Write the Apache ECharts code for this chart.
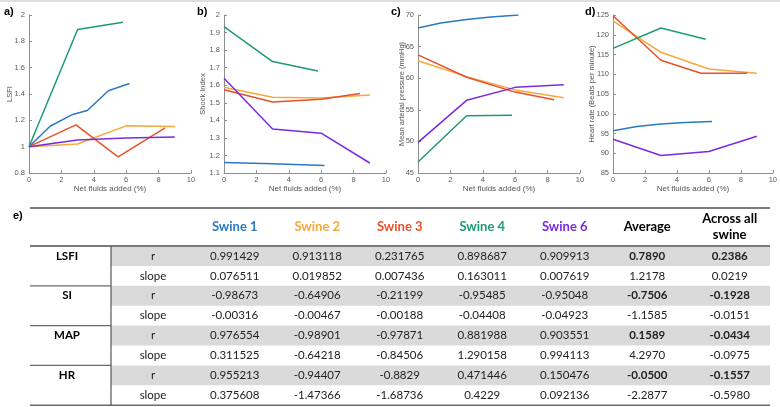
<!DOCTYPE html>
<html>
<head>
<meta charset="utf-8">
<script src="https://cdn.jsdelivr.net/npm/echarts@6/dist/echarts.min.js"></script>
<style>
  html, body { margin: 0; padding: 0; background: #fff; }
  #chart-container { width: 780px; height: 407px; }
</style>
</head>
<body>
<div id="chart-container"></div>
<script>
// swine names and line colours
var swineNames = ['Swine 1', 'Swine 2', 'Swine 3', 'Swine 4', 'Swine 6'];
var swineColors = ['#2b79c2', '#f5a83c', '#e6522c', '#1c9c6e', '#7d29e0'];

// a) LSFI  [net fluids %, value]
var lsfi1 = [[0, 1.0], [1.3, 1.155], [2.7, 1.245], [3.6, 1.275], [4.9, 1.425], [6.2, 1.48]];
var lsfi2 = [[0, 1.0], [3, 1.02], [6, 1.158], [9, 1.153]];
var lsfi3 = [[0, 1.0], [2.9, 1.165], [5.5, 0.922], [8.4, 1.143]];
var lsfi4 = [[0, 1.0], [3, 1.89], [5.8, 1.945]];
var lsfi6 = [[0, 1.0], [3, 1.05], [6, 1.065], [9, 1.073]];

// b) shock index
var si1 = [[0, 1.16], [3, 1.152], [6.2, 1.143]];
var si2 = [[0, 1.589], [3, 1.532], [6, 1.527], [9, 1.544]];
var si3 = [[0, 1.574], [3, 1.505], [6, 1.52], [8.4, 1.553]];
var si4 = [[0, 1.934], [3, 1.735], [5.8, 1.681]];
var si6 = [[0, 1.64], [3, 1.351], [6, 1.327], [9, 1.157]];

// c) mean arterial pressure
var map1 = [[0, 67.95], [1.4, 68.75], [3, 69.3], [4.5, 69.7], [6.2, 70.0]];
var map2 = [[0, 62.75], [3, 60.25], [6, 58.15], [9, 56.9]];
var map3 = [[0, 63.7], [3, 60.15], [6, 57.8], [8.4, 56.6]];
var map4 = [[0, 46.75], [3, 54.05], [5.8, 54.15]];
var map6 = [[0, 49.85], [3, 56.5], [6, 58.55], [9, 58.95]];

// d) heart rate
var hr1 = [[0, 95.7], [1.5, 96.75], [3, 97.4], [4.5, 97.8], [6.2, 98.05]];
var hr2 = [[0, 123.5], [3, 115.55], [6, 111.35], [9, 110.25]];
var hr3 = [[0, 124.8], [3, 113.55], [5.5, 110.25], [8.4, 110.25]];
var hr4 = [[0, 116.55], [3, 121.7], [5.8, 118.85]];
var hr6 = [[0, 93.55], [3, 89.45], [6, 90.45], [9, 94.3]];

// axis ranges per panel
var panelLabels = ['a)', 'b)', 'c)', 'd)'];
var yNames = ['LSFI', 'Shock Index', 'Mean arterial pressure (mmHg)', 'Heart rate (Beats per minute)'];
var yMins = [0.8, 1.1, 45, 85];
var yMaxs = [2, 2, 70, 125];
var yIntervals = [0.2, 0.1, 5, 5];
var xTicks = [0, 10, 2];

// e) table
var tableGroups = ['LSFI', 'SI', 'MAP', 'HR'];
var tableStats = ['r', 'slope'];
var extraCols = ['Average', 'Across all\nswine'];
var colSwine1 = ['0.991429', '0.076511', '-0.98673', '-0.00316', '0.976554', '0.311525', '0.955213', '0.375608'];
var colSwine2 = ['0.913118', '0.019852', '-0.64906', '-0.00467', '-0.98901', '-0.64218', '-0.94407', '-1.47366'];
var colSwine3 = ['0.231765', '0.007436', '-0.21199', '-0.00188', '-0.97871', '-0.84506', '-0.8829', '-1.68736'];
var colSwine4 = ['0.898687', '0.163011', '-0.95485', '-0.04408', '0.881988', '1.290158', '0.471446', '0.4229'];
var colSwine6 = ['0.909913', '0.007619', '-0.95048', '-0.04923', '0.903551', '0.994113', '0.150476', '0.092136'];
var colAverage = ['0.7890', '1.2178', '-0.7506', '-1.1585', '0.1589', '4.2970', '-0.0500', '-2.2877'];
var colAcross = ['0.2386', '0.0219', '-0.1928', '-0.0151', '-0.0434', '-0.0975', '-0.1557', '-0.5980'];

var panelData = [
  [lsfi1, lsfi2, lsfi3, lsfi4, lsfi6],
  [si1, si2, si3, si4, si6],
  [map1, map2, map3, map4, map6],
  [hr1, hr2, hr3, hr4, hr6]
];

var dom = document.getElementById('chart-container');
var myChart = echarts.init(dom, null, { renderer: 'canvas' });

var plotFont = 'Liberation Sans';
var tableFont = 'Lato';
var gridLefts = [29, 224, 418, 613];
var yNameGaps = [15, 17, 12, 17];

var grids = [], xAxes = [], yAxes = [], series = [];
gridLefts.forEach(function (left, p) {
  grids.push({ left: left, top: 15, width: 162, height: 158 });
  xAxes.push({
    type: 'value', gridIndex: p, min: xTicks[0], max: xTicks[1], interval: xTicks[2],
    name: 'Net fluids added (%)', nameLocation: 'middle', nameGap: 12, nameMoveOverlap: false,
    nameTextStyle: { fontFamily: plotFont, fontSize: 8, color: '#555' },
    axisLine: { lineStyle: { color: '#8f8f8f', width: 1 } },
    axisTick: { inside: true, length: 3, lineStyle: { color: '#8f8f8f' } },
    axisLabel: { fontFamily: plotFont, fontSize: 7.5, color: '#5a5a5a', margin: 3 },
    splitLine: { show: false }
  });
  yAxes.push({
    type: 'value', gridIndex: p, min: yMins[p], max: yMaxs[p], interval: yIntervals[p],
    name: yNames[p], nameLocation: 'middle', nameGap: yNameGaps[p], nameMoveOverlap: false,
    nameTextStyle: { fontFamily: plotFont, fontSize: 7.5, color: '#555' },
    axisLine: { show: true, lineStyle: { color: '#8f8f8f', width: 1 } },
    axisTick: { show: true, inside: true, length: 3, lineStyle: { color: '#8f8f8f' } },
    axisLabel: { fontFamily: plotFont, fontSize: 7.5, color: '#5a5a5a', margin: 4 },
    splitLine: { show: false }
  });
  panelData[p].forEach(function (d, s) {
    series.push({
      type: 'line', name: swineNames[s], xAxisIndex: p, yAxisIndex: p,
      data: d, showSymbol: false, symbol: 'none', silent: true,
      lineStyle: { color: swineColors[s], width: 1.5 },
      itemStyle: { color: swineColors[s] }
    });
  });
});

// table graphic built from the arrays above
var graphics = [];
function txt(x, y, text, color, bold, size) {
  graphics.push({
    type: 'text', silent: true,
    style: {
      x: x, y: y, text: text, fill: color,
      font: (bold ? 'bold ' : '') + size + 'px ' + tableFont,
      align: 'center', verticalAlign: 'middle',
      textAlign: 'center', textVerticalAlign: 'middle', lineHeight: 16
    }
  });
}
function hline(x1, x2, y, color, w) {
  graphics.push({ type: 'line', silent: true, shape: { x1: x1, y1: y, x2: x2, y2: y }, style: { stroke: color, lineWidth: w } });
}

// top frame line of the figure
graphics.push({ type: 'rect', silent: true, shape: { x: 0, y: 0, width: 780, height: 2 }, style: { fill: '#dedede' } });

panelLabels.forEach(function (lab, p) {
  graphics.push({ type: 'text', silent: true, style: { x: [4, 197, 391, 585][p], y: 12, text: lab, fill: '#000', font: 'bold 11px ' + plotFont, textVerticalAlign: 'middle', verticalAlign: 'middle' } });
});
graphics.push({ type: 'text', silent: true, style: { x: 13, y: 216, text: 'e)', fill: '#000', font: 'bold 11px ' + plotFont, textVerticalAlign: 'middle', verticalAlign: 'middle' } });

var tLeft = 30, tRight = 770, headTop = 208, headBottom = 246, rowH = 19.9, divX = 111;
var colX = [234.7, 317.2, 399.7, 482.2, 564.7, 647.2, 729.7];
var columns = [colSwine1, colSwine2, colSwine3, colSwine4, colSwine6, colAverage, colAcross];

for (var i = 0; i < tableGroups.length * tableStats.length; i++) {
  if (i % 2 === 0) {
    graphics.push({ type: 'rect', silent: true, shape: { x: divX, y: headBottom + i * rowH, width: tRight - divX, height: rowH }, style: { fill: '#dadada' } });
  }
}
hline(tLeft, tRight, headTop, '#7a7a7a', 2);
hline(tLeft, tRight, headBottom, '#7a7a7a', 2);
tableGroups.forEach(function (g, k) {
  var top = headBottom + k * 2 * rowH;
  if (k > 0) hline(tLeft, divX, top, '#6a6a6a', 1.3);
  txt(67, top + rowH / 2, g, '#000', true, 11.5);
  tableStats.forEach(function (st, j) {
    var ry = top + j * rowH + rowH / 2;
    txt(153, ry, st, '#222', false, 11.5);
    columns.forEach(function (col, c) {
      txt(colX[c], ry, col[k * 2 + j], '#222', c >= 5 && j === 0, 11.5);
    });
  });
});
var tBottom = headBottom + 8 * rowH;
hline(tLeft, tRight, tBottom, '#6a6a6a', 1.5);
graphics.push({ type: 'line', silent: true, shape: { x1: divX, y1: headBottom, x2: divX, y2: tBottom }, style: { stroke: '#555', lineWidth: 1.2 } });

swineNames.forEach(function (n, s) { txt(colX[s], 227.3, n, swineColors[s], true, 13); });
extraCols.forEach(function (n, c) { txt(colX[5 + c], 227.3, n, '#000', true, 13); });

var option = {
  backgroundColor: '#fff',
  animation: false,
  grid: grids,
  xAxis: xAxes,
  yAxis: yAxes,
  series: series,
  graphic: { elements: graphics }
};

if (option && typeof option === 'object') {
  myChart.setOption(option);
}
window.addEventListener('resize', myChart.resize);
</script>
</body>
</html>
